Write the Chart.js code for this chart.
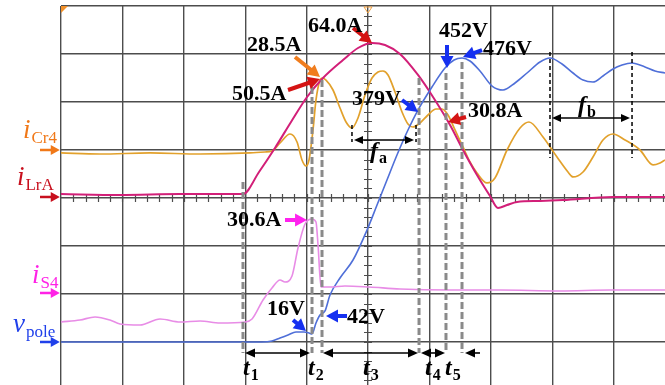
<!DOCTYPE html>
<html><head><meta charset="utf-8">
<script src="https://cdn.jsdelivr.net/npm/chart.js@4.4.1/dist/chart.umd.min.js"></script>
<style>html,body{margin:0;padding:0;background:#fff;overflow:hidden}canvas{display:block}</style>
</head><body>
<canvas id="c" width="665" height="385"></canvas>
<script>
// All values in oscilloscope divisions (x: 0..10 time div, y: 0..8 vertical div)
const iCr4X = [0,0.635,1.45,2.264,3.078,3.322,3.436,3.567,3.73,3.844,3.925,3.99,4.039,4.104,4.153,4.218,4.251,4.316,4.43,4.544,4.642,4.739,4.837,4.951,5.065,5.163,5.244,5.326,5.44,5.554,5.651,5.733,5.847,5.977,6.107,6.205,6.303,6.417,6.547,6.661,6.775,6.938,7.068,7.264,7.476,7.622,7.85,8.078,8.257,8.339,8.502,8.664,8.827,8.99,9.186,9.43,9.642,9.756,9.837];
const iCr4Y = [4.938,4.917,4.938,4.917,4.938,4.958,4.979,5.146,5.333,5.167,4.792,4.667,4.792,5.417,6.042,6.458,6.5,6.458,6.25,5.875,5.583,5.458,5.667,6.146,6.5,6.625,6.646,6.563,6.208,5.792,5.542,5.479,5.563,5.729,5.854,5.854,5.729,5.417,5.063,4.75,4.521,4.313,4.417,5.0,5.458,5.583,5.271,4.854,4.542,4.438,4.542,4.854,5.208,5.333,5.208,5.0,4.688,4.729,4.792];
const iLrAX = [0,0.961,1.938,2.964,3.225,3.485,3.746,4.007,4.267,4.593,4.837,5.065,5.277,5.521,5.814,6.059,6.336,6.547,6.775,6.987,7.117,7.264,7.427,7.801,8.176,8.99,9.837];
const iLrAY = [4.083,4.063,4.083,4.083,4.542,5.042,5.583,6.104,6.5,6.875,7.125,7.229,7.188,7.0,6.563,6.104,5.521,5.0,4.479,4.042,3.792,3.854,3.917,3.938,3.958,4.021,4.021];
const iS4X = [0,0.309,0.554,0.798,0.961,1.287,1.612,1.938,2.264,2.59,2.997,3.111,3.29,3.436,3.567,3.648,3.762,3.86,3.974,4.088,4.153,4.186,4.235,4.381,4.625,5.016,5.521,6.336,7.15,8.127,8.941,9.837];
const iS4Y = [1.417,1.458,1.521,1.458,1.375,1.354,1.479,1.417,1.438,1.396,1.417,1.479,1.875,2.125,2.292,2.25,2.375,2.958,3.458,3.563,3.5,3.021,2.146,2.146,2.167,2.146,2.104,2.083,2.083,2.063,2.083,2.083];
const vPoleX = [0,1.45,2.264,2.997,3.274,3.436,3.567,3.697,3.827,3.958,4.039,4.088,4.153,4.218,4.3,4.381,4.544,4.756,4.984,5.147,5.309,5.472,5.651,5.814,6.042,6.254,6.401,6.531,6.661,6.824,7.02,7.199,7.394,7.59,7.801,7.964,8.16,8.339,8.502,8.664,8.827,8.99,9.137,9.3,9.511,9.674,9.837];
const vPoleY = [1.0,1.0,1.0,1.0,1.0,1.021,1.083,1.146,1.208,1.208,1.188,1.167,1.396,1.563,1.646,1.979,2.333,2.708,3.333,3.854,4.375,4.896,5.417,5.833,6.313,6.708,6.875,6.917,6.854,6.646,6.333,6.25,6.396,6.604,6.833,6.917,6.792,6.604,6.458,6.417,6.542,6.688,6.771,6.813,6.729,6.646,6.604];

// annotation texts
const valueLabels = ['64.0A','28.5A','50.5A','379V','452V','476V','30.8A','30.6A','16V','42V'];
const seriesNames = [['i','Cr4'],['i','LrA'],['i','S4'],['v','pole']];
const intervalNames = [['t','1'],['t','2'],['t','3'],['t','4'],['t','5']];
const freqNames = [['f','a'],['f','b']];

// annotation geometry (division units)
const valueLabelPos = [[4.023,7.458],[3.029,7.063],[2.785,6.042],[4.739,5.938],[6.156,7.354],[6.873,6.979],[6.629,5.688],[2.704,3.417],[3.355,1.563],[4.658,1.396]];
const calloutArrows = [
  [4.756,7.542,5.065,7.229,'#d41414'],
  [3.811,6.938,4.218,6.521,'#f07d1e'],
  [3.697,6.25,4.218,6.479,'#d41414'],
  [5.554,6.042,5.814,5.792,'#1530f0'],
  [6.287,7.188,6.287,6.708,'#1530f0'],
  [6.857,7.083,6.547,6.938,'#1530f0'],
  [6.596,5.688,6.303,5.583,'#d41414'],
  [3.648,3.542,4.007,3.542,'#ff22ee'],
  [3.779,1.458,3.99,1.229,'#1530f0'],
  [4.658,1.542,4.316,1.542,'#1530f0']
];
const seriesLabelPos = [[-0.619,5.25,5.0,'#f07818'],[-0.717,4.271,4.021,'#c8101e'],[-0.472,2.229,2.021,'#ff22e6'],[-0.782,1.208,1.0,'#2040ea']];
const markerLines = [[2.964,4.333],[4.088,6.313],[4.251,6.458],[5.831,6.5],[6.27,6.604],[6.531,6.833]];
const markerBottom = 0.771;
const intervalArrows = [[2.997,4.055,true],[4.267,5.814,true],[5.863,6.254,true],[6.824,6.58,false]];
const intervalLabelPos = [[2.964,0.313],[4.023,0.313],[4.919,0.313],[5.928,0.313],[6.254,0.313]];
const freqSpans = [[4.739,5.782,5.521,5.167,5.208,5.033,4.833],[7.964,9.3,7.042,4.833,5.667,8.42,5.792]];

const pts = (xs, ys) => xs.map((v, i) => ({x: v, y: ys[i]}));

function head(ctx, x0, y0, x1, y1, len, w) {
  const a = Math.atan2(y1 - y0, x1 - x0), c = Math.cos(a), s = Math.sin(a);
  ctx.beginPath();
  ctx.moveTo(x1, y1);
  ctx.lineTo(x1 - len * c + w * s, y1 - len * s - w * c);
  ctx.lineTo(x1 - len * c - w * s, y1 - len * s + w * c);
  ctx.closePath(); ctx.fill();
}
function arrow(ctx, x0, y0, x1, y1, color, lw, len, w, both) {
  const a = Math.atan2(y1 - y0, x1 - x0), c = Math.cos(a), s = Math.sin(a);
  ctx.strokeStyle = color; ctx.fillStyle = color; ctx.lineWidth = lw; ctx.setLineDash([]);
  ctx.beginPath();
  ctx.moveTo(both ? x0 + len * 0.7 * c : x0, both ? y0 + len * 0.7 * s : y0);
  ctx.lineTo(x1 - len * 0.7 * c, y1 - len * 0.7 * s);
  ctx.stroke();
  head(ctx, x0, y0, x1, y1, len, w);
  if (both) head(ctx, x1, y1, x0, y0, len, w);
}
function subText(ctx, x, y, main, sub, mainFont, subFont, drop, color) {
  ctx.fillStyle = color; ctx.textAlign = 'left'; ctx.textBaseline = 'alphabetic';
  ctx.font = mainFont; ctx.fillText(main, x, y);
  const w = ctx.measureText(main).width;
  ctx.font = subFont; ctx.fillText(sub, x + w + 1, y + drop);
}

const annot = {
  id: 'annot',
  beforeDatasetsDraw(chart) {
    const {ctx, scales: {x, y}} = chart;
    const X = v => x.getPixelForValue(v), Y = v => y.getPixelForValue(v);
    ctx.save();
    ctx.strokeStyle = '#4d4d4d'; ctx.lineWidth = 1.2;
    ctx.beginPath();
    for (let k = 1; k < 50; k++) { const v = k * 0.2; if (v > 9.84) break; const p = Math.round(X(v)) + 0.5; ctx.moveTo(p, Y(4) - 4); ctx.lineTo(p, Y(4) + 4); }
    for (let k = 1; k < 40; k++) { const v = k * 0.2; const p = Math.round(Y(v)) + 0.5; ctx.moveTo(X(5) - 4, p); ctx.lineTo(X(5) + 4, p); }
    ctx.stroke();
    // trigger markers
    ctx.fillStyle = '#f0902a';
    ctx.beginPath(); ctx.moveTo(X(0), Y(8)); ctx.lineTo(X(0) + 7, Y(8)); ctx.lineTo(X(0), Y(8) + 7); ctx.closePath(); ctx.fill();
    ctx.strokeStyle = '#f0a040'; ctx.lineWidth = 1;
    ctx.beginPath(); ctx.moveTo(X(5) - 4, Y(8) + 1); ctx.lineTo(X(5) + 4, Y(8) + 1); ctx.lineTo(X(5), Y(8) + 7); ctx.closePath(); ctx.stroke();
    ctx.restore();
  },
  afterDatasetsDraw(chart) {
    const {ctx, scales: {x, y}} = chart;
    const X = v => x.getPixelForValue(v), Y = v => y.getPixelForValue(v);
    ctx.save();
    // gray dashed markers
    ctx.strokeStyle = '#8a8a8a'; ctx.lineWidth = 3; ctx.setLineDash([7, 3]);
    markerLines.forEach(([mx, top]) => { ctx.beginPath(); ctx.moveTo(X(mx), Y(top)); ctx.lineTo(X(mx), Y(markerBottom)); ctx.stroke(); });
    // frequency spans
    freqSpans.forEach(([a, b, t, bt, ay, lx, ly], i) => {
      ctx.strokeStyle = '#000'; ctx.lineWidth = 1.5; ctx.setLineDash([4, 3]);
      ctx.beginPath(); ctx.moveTo(X(a), Y(t)); ctx.lineTo(X(a), Y(bt)); ctx.moveTo(X(b), Y(t)); ctx.lineTo(X(b), Y(bt)); ctx.stroke();
      arrow(ctx, X(a) + 2, Y(ay), X(b) - 2, Y(ay), '#000', 1.6, 9, 4, true);
      subText(ctx, X(lx), Y(ly), freqNames[i][0], freqNames[i][1], 'italic bold 24px "Liberation Serif"', 'bold 16px "Liberation Serif"', 5, '#000');
    });
    // interval arrows
    intervalArrows.forEach(([a, b, both]) => arrow(ctx, X(a), Y(markerBottom), X(b), Y(markerBottom), '#000', 1.6, 10, 4.5, both));
    intervalLabelPos.forEach(([lx, ly], i) => subText(ctx, X(lx), Y(ly), intervalNames[i][0], intervalNames[i][1], 'italic bold 24px "Liberation Serif"', 'bold 16px "Liberation Serif"', 5, '#000'));
    // callout arrows and value labels
    calloutArrows.forEach(([a, b, c, d, col]) => arrow(ctx, X(a), Y(b), X(c), Y(d), col, 4, 12, 6.5, false));
    ctx.fillStyle = '#000'; ctx.font = 'bold 22px "Liberation Serif"'; ctx.textAlign = 'left'; ctx.textBaseline = 'alphabetic';
    valueLabels.forEach((t, i) => ctx.fillText(t, X(valueLabelPos[i][0]), Y(valueLabelPos[i][1])));
    // series labels with arrows on the left
    seriesLabelPos.forEach(([lx, ly, ay, col], i) => {
      subText(ctx, X(lx), Y(ly), seriesNames[i][0], seriesNames[i][1], 'italic 27px "Liberation Serif"', '17px "Liberation Serif"', 5, col);
      arrow(ctx, X(-0.342), Y(ay), X(-0.02), Y(ay), col, 2.5, 9, 5, false);
    });
    ctx.restore();
  }
};

const gridOpts = {color: '#4d4d4d', lineWidth: 1.4, drawTicks: false};
new Chart(document.getElementById('c'), {
  type: 'line',
  data: {datasets: [
    {data: pts(iS4X, iS4Y), borderColor: '#e88ce6', borderWidth: 1.6},
    {data: pts(vPoleX, vPoleY), borderColor: '#4f6fd8', borderWidth: 1.6},
    {data: pts(iLrAX, iLrAY), borderColor: '#d21f78', borderWidth: 2},
    {data: pts(iCr4X, iCr4Y), borderColor: '#e2a12c', borderWidth: 1.7}
  ]},
  options: {
    responsive: false, animation: false, devicePixelRatio: 1,
    layout: {padding: {left: 61, top: 6, right: 0, bottom: 0}},
    plugins: {legend: {display: false}, tooltip: {enabled: false}},
    elements: {point: {radius: 0}, line: {cubicInterpolationMode: 'monotone'}},
    scales: {
      x: {type: 'linear', min: 0, max: 9.837, ticks: {display: false, stepSize: 1, includeBounds: false}, grid: gridOpts, border: {display: false}},
      y: {type: 'linear', min: 0.104, max: 8, ticks: {display: false, stepSize: 1, includeBounds: false}, grid: gridOpts, border: {display: false}}
    }
  },
  plugins: [annot]
});
</script>
</body></html>
